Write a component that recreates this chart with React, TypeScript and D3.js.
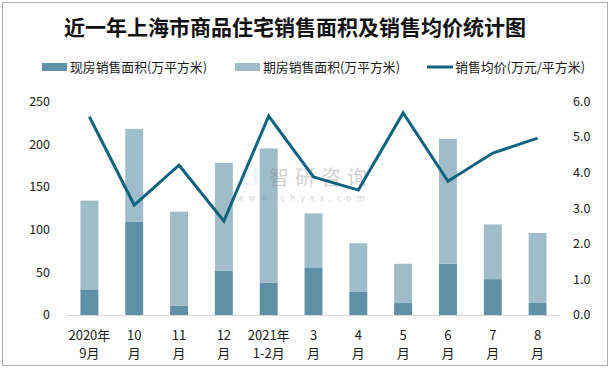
import React from 'react';
import * as d3 from 'd3';

// months (two-line labels)
const categories = ['2020年|9月', '10|月', '11|月', '12|月', '2021年|1-2月', '3|月', '4|月', '5|月', '6|月', '7|月', '8|月'];
// 现房销售面积 (万平方米)
const existingArea = [30, 109, 11, 52, 38, 55, 27, 14, 60, 42, 14];
// 期房销售面积 (万平方米)
const futureArea = [104, 109, 110, 126, 157, 64, 57, 46, 146, 64, 82];
// 销售均价 (万元/平方米)
const avgPrice = [5.57, 3.09, 4.21, 2.64, 5.59, 3.88, 3.51, 5.68, 3.76, 4.55, 4.97];

const leftTicks = [0, 50, 100, 150, 200, 250];
const rightTicks = [0, 1, 2, 3, 4, 5, 6];

const W = 612;
const H = 369;
const font = '"Noto Sans CJK SC", "Noto Sans", sans-serif';

export default function App() {
  const x = d3.scaleBand<string>().domain(categories).range([67, 560]).paddingInner(0.6).paddingOuter(0.3);
  const yL = d3.scaleLinear().domain([0, 250]).range([315, 101.5]);
  const yR = d3.scaleLinear().domain([0, 6]).range([315, 101.5]);
  const cx = (c: string) => (x(c) as number) + x.bandwidth() / 2;

  const line = d3
    .line<number>()
    .x((_, i) => cx(categories[i]))
    .y((d) => yR(d));

  return (
    <svg width={W} height={H} style={{position: 'absolute', left: 0, top: 0, background: '#fff'}}>
      <rect x={2.5} y={2.5} width={605} height={363} fill="#fff" stroke="#b0b0b0" />
      <text x={295} y={35} textAnchor="middle" fontFamily={font} fontSize={21} fontWeight="bold" fill="#111">
        近一年上海市商品住宅销售面积及销售均价统计图
      </text>

      {/* legend */}
      <g fontFamily={font} fontSize={13} fill="#1a1a1a">
        <rect x={42} y={63} width={25} height={8} fill="#5e91a6" />
        <text x={70} y={72} textLength={137} lengthAdjust="spacingAndGlyphs">现房销售面积(万平方米)</text>
        <rect x={235} y={63} width={25} height={8} fill="#9fbccb" />
        <text x={263} y={72} textLength={137} lengthAdjust="spacingAndGlyphs">期房销售面积(万平方米)</text>
        <line x1={427} x2={453} y1={67} y2={67} stroke="#10637f" strokeWidth={3} />
        <text x={455} y={72} textLength={130} lengthAdjust="spacingAndGlyphs">销售均价(万元/平方米)</text>
      </g>

      {/* bars */}
      {categories.map((c, i) => (
        <g key={c}>
          <rect x={x(c)} width={x.bandwidth()} y={yL(existingArea[i])} height={yL(0) - yL(existingArea[i])} fill="#5e91a6" />
          <rect
            x={x(c)}
            width={x.bandwidth()}
            y={yL(existingArea[i] + futureArea[i])}
            height={yL(existingArea[i]) - yL(existingArea[i] + futureArea[i])}
            fill="#9fbccb"
          />
        </g>
      ))}

      {/* watermark */}
      <g opacity={0.35} fontFamily={font}>
        <text x={238} y={185} fontSize={22} fill="#cfe0f4" fontWeight="bold">ZI</text>
        <text x={269} y={185} fontSize={20} fill="#808080" letterSpacing={6}>智研咨询</text>
        <text x={237} y={201} fontSize={8} fill="#808080" letterSpacing={5.6}>www.chyxx.com</text>
      </g>

      <line x1={67} x2={560} y1={315.5} y2={315.5} stroke="#d9d9d9" />

      <path d={line(avgPrice) as string} fill="none" stroke="#10637f" strokeWidth={3} strokeLinejoin="miter" />

      {/* axes labels */}
      <g fontFamily={font} fontSize={12.5} fill="#1a1a1a">
        {leftTicks.map((t) => (
          <text key={t} x={50} y={yL(t)} dy="0.35em" textAnchor="end">
            {t}
          </text>
        ))}
        {rightTicks.map((t) => (
          <text key={t} x={573} y={yR(t)} dy="0.35em">
            {t.toFixed(1)}
          </text>
        ))}
      </g>

      {/* x labels */}
      <g fontFamily={font} fontSize={13} fill="#1a1a1a" textAnchor="middle">
        {categories.map((c) => {
          const [a, b] = c.split('|');
          return (
            <g key={c}>
              <text x={cx(c)} y={340}>{a}</text>
              <text x={cx(c)} y={358}>{b}</text>
            </g>
          );
        })}
      </g>
    </svg>
  );
}
